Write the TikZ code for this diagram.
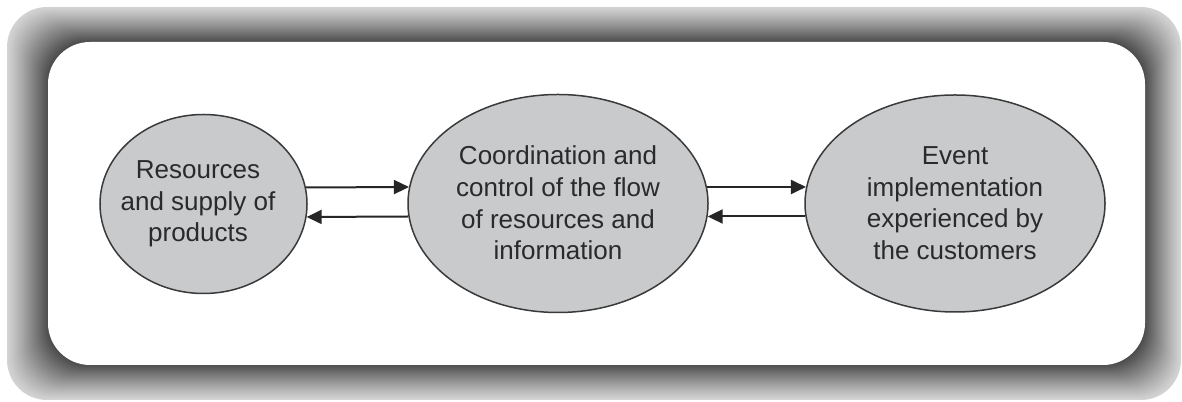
\documentclass[tikz,border=0pt]{standalone}
\usepackage{fontspec}
\setmainfont{Liberation Sans}
\usetikzlibrary{shapes.geometric,arrows.meta}
\definecolor{ellfill}{HTML}{C9CACC}
\definecolor{ellline}{HTML}{3A3A3A}
\definecolor{txt}{HTML}{2A2A2A}
\tikzset{
  bubble/.style={ellipse, draw=ellline, line width=0.75bp, fill=ellfill, inner sep=0pt},
  lbl/.style={align=center, text=txt, font=\fontsize{13bp}{15.8bp}\selectfont, inner sep=0pt},
  flow/.style={draw=black!85, line width=1bp, -{Triangle[length=7.5bp,width=7bp]}},
}
\begin{document}
\begin{tikzpicture}[x=0.5bp,y=-0.5bp]
\useasboundingbox (0,0) rectangle (1182,402);
% shadowed frame
\foreach \i in {0,...,60}{
  \pgfmathsetmacro\t{\i/60}
  \pgfmathsetmacro\xa{7+41*\t}
  \pgfmathsetmacro\ya{7+35*\t}
  \pgfmathsetmacro\xb{1181-36*\t}
  \pgfmathsetmacro\yb{400-35*\t}
  \pgfmathsetmacro\c{17+53*\t^1.15}
  \fill[black!\c, rounded corners=20bp] (\xa,\ya) rectangle (\xb,\yb);
}
\fill[white, rounded corners=21bp] (48,42) rectangle (1145,365);
% bubbles
\node[bubble, minimum width=103.5bp, minimum height=89.5bp] (L) at (203.5,204) {};
\node[bubble, minimum width=150bp, minimum height=109bp] (M) at (558,203.5) {};
\node[bubble, minimum width=150bp, minimum height=108.5bp] (R) at (955,203.5) {};
\node[lbl] (Lt) at (198,204) {Resources\\and supply of\\products};
\node[lbl] (Mt) at (558,203) {Coordination and\\control of the flow\\of resources and\\information};
\node[lbl] (Rt) at (955,203) {Event\\implementation\\experienced by\\the customers};
% flows
\draw[flow] ([xshift=-0.9bp,yshift=8.25bp]L.east) -- ([xshift=0.85bp,yshift=8.25bp]M.west);
\draw[flow] ([xshift=0.55bp,yshift=-6.5bp]M.west) -- ([xshift=-0.55bp,yshift=-6.5bp]L.east);
\draw[flow] ([xshift=-0.85bp,yshift=8.25bp]M.east) -- ([xshift=0.85bp,yshift=8.25bp]R.west);
\draw[flow] ([xshift=0.55bp,yshift=-6.5bp]R.west) -- ([xshift=-0.55bp,yshift=-6.5bp]M.east);
\end{tikzpicture}
\end{document}
